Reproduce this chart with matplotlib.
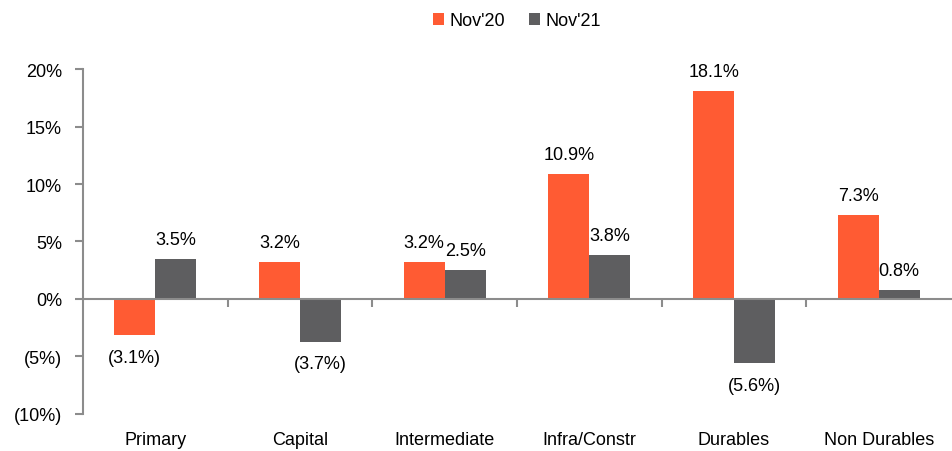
import numpy as np
import matplotlib.pyplot as plt

# DATOS

categorias = ["Primary", "Capital", "Intermediate", "Infra/Constr", "Durables", "Non Durables"]
nov20 = [-3.1, 3.2, 3.2, 10.9, 18.1, 7.3]
nov21 = [3.5, -3.7, 2.5, 3.8, -5.6, 0.8]
series = ["Nov'20", "Nov'21"]
colores = ["#FF5B33", "#5E5E60"]
yticks = [-10, -5, 0, 5, 10, 15, 20]

plt.rcParams["font.family"] = ["Liberation Sans", "DejaVu Sans"]
plt.rcParams["font.size"] = 13


def fmt(v):
    return f"({abs(v):.1f}%)" if v < 0 else f"{v:.1f}%"


def fmt_tick(v):
    return f"({abs(v):.0f}%)" if v < 0 else f"{v:.0f}%"


fig = plt.figure(figsize=(9.53, 4.52), dpi=100)
ax = fig.add_axes([0.087, 0.082, 0.911, 0.763])

x = np.arange(len(categorias))
ancho = 0.283

for i, (vals, nombre, color) in enumerate(zip([nov20, nov21], series, colores)):
    pos = x + (i - 0.5) * ancho
    ax.bar(pos, vals, width=ancho, color=color, label=nombre, zorder=2)
    for p, v in zip(pos, vals):
        if v >= 0:
            ax.annotate(fmt(v), (p, v), xytext=(0, 8), textcoords="offset points",
                        ha="center", va="bottom")
        else:
            ax.annotate(fmt(v), (p, v), xytext=(0, -10), textcoords="offset points",
                        ha="center", va="top")

ax.set_xlim(-0.5, len(categorias) - 0.5)
ax.set_ylim(-10, 20)
ax.set_yticks(yticks)
ax.set_yticklabels([fmt_tick(t) for t in yticks])

gris = "#8C8C8C"
for s in ["top", "right"]:
    ax.spines[s].set_visible(False)
ax.spines["left"].set_color(gris)
ax.spines["left"].set_linewidth(1.5)
ax.spines["bottom"].set_position(("data", 0))
ax.spines["bottom"].set_color(gris)
ax.spines["bottom"].set_linewidth(1.5)
ax.spines["bottom"].set_zorder(3)

ax.set_xticks(np.arange(0.5, len(categorias) - 0.5))
ax.set_xticklabels([])
ax.tick_params(axis="x", length=6, width=1.5, color=gris, direction="out")
ax.tick_params(axis="y", length=6, width=1.5, color=gris, pad=9)

for xi, cat in zip(x, categorias):
    ax.text(xi, -0.075, cat, transform=ax.get_xaxis_transform(), ha="center", va="center")

ax.legend(loc="center", bbox_to_anchor=(0.5, 1.14), ncol=2, frameon=False,
          handlelength=0.6, handleheight=0.6, handletextpad=0.3, columnspacing=1.3)

fig.savefig("out.png", dpi=100)
